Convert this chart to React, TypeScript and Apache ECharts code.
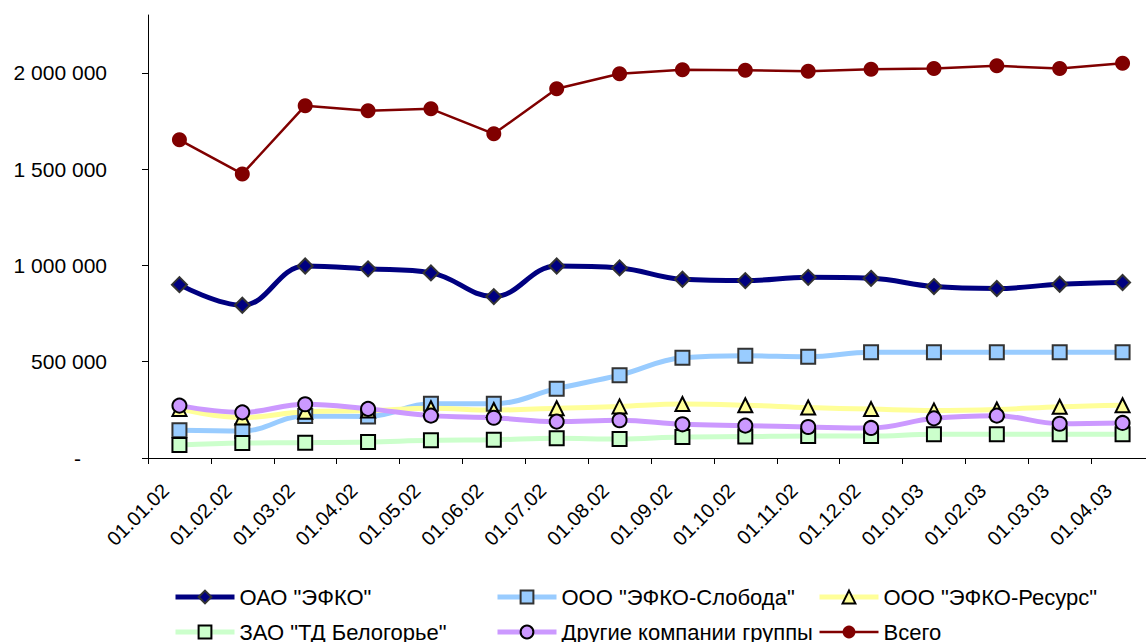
import React, { useEffect, useRef } from "react";
import * as echarts from "echarts";

const categories = [
  "01.01.02", "01.02.02", "01.03.02", "01.04.02", "01.05.02", "01.06.02",
  "01.07.02", "01.08.02", "01.09.02", "01.10.02", "01.11.02", "01.12.02",
  "01.01.03", "01.02.03", "01.03.03", "01.04.03",
];

const efko = [900000, 793000, 997000, 982000, 961000, 838000, 997000, 987000, 928000, 921000, 938000, 933000, 890000, 880000, 902000, 911000];
const sloboda = [144000, 140000, 218000, 216000, 282000, 282000, 360000, 430000, 520000, 531000, 526000, 549000, 549000, 549000, 549000, 549000];
const resurs = [255000, 210000, 240000, 246000, 258000, 249000, 258000, 268000, 280000, 274000, 262000, 254000, 247000, 252000, 266000, 274000];
const belogorie = [67500, 78000, 79500, 83000, 92000, 95000, 102000, 99000, 109000, 111000, 114000, 114000, 123000, 123000, 123000, 123000];
const others = [272000, 237000, 279000, 255000, 220000, 209000, 189000, 196000, 175000, 168000, 161000, 156000, 206000, 220000, 178000, 182000];
const total = [1652000, 1475000, 1829000, 1803000, 1813000, 1683000, 1917000, 1995000, 2016000, 2013000, 2008000, 2018000, 2022000, 2036000, 2022000, 2050000];

const yTicks = [0, 500000, 1000000, 1500000, 2000000];

const names = [
  'ОАО "ЭФКО"',
  'ООО "ЭФКО-Слобода"',
  'ООО "ЭФКО-Ресурс"',
  'ЗАО "ТД Белогорье"',
  "Другие компании группы",
  "Всего",
];

const lineWidths = [5, 5, 5, 5, 5, 2.5];

const FONT = "'Liberation Sans', Arial, sans-serif";

function fmt(v: number) {
  if (v === 0) return "{d|-}";
  return String(v).replace(/\B(?=(\d{3})+(?!\d))/g, " ");
}

export default function App() {
  const ref = useRef<HTMLDivElement>(null);
  useEffect(() => {
    if (!ref.current) return;
    const chart = echarts.init(ref.current, undefined, { renderer: "svg" });
    const legendText = { fontSize: 22, color: "#000", fontFamily: FONT, lineHeight: 22 };
    const mkLegend = (left: number, idx: number[]) => ({
      orient: "vertical",
      left,
      top: 586,
      itemWidth: 59,
      itemHeight: 16,
      itemGap: 13,
      padding: 0,
      textStyle: legendText,
      data: idx.map((i) => ({ name: names[i], lineStyle: { width: lineWidths[i] } })),
    });
    chart.setOption({
      animation: false,
      backgroundColor: "#fff",
      grid: { left: 148, top: 15, right: 0, bottom: 202, containLabel: false },
      xAxis: {
        type: "category",
        data: categories,
        boundaryGap: true,
        axisLine: { lineStyle: { color: "#000", width: 1 } },
        axisTick: { show: true, length: 6, lineStyle: { color: "#000" }, interval: 0 },
        axisLabel: {
          interval: 0, rotate: 45, margin: 15, fontSize: 20, color: "#000", fontFamily: FONT,
          padding: [0, 20, 0, 0],
        },
        splitLine: { show: false },
      },
      yAxis: {
        type: "value",
        min: 0,
        max: 2300000,
        interval: 500000,
        axisLine: { show: true, lineStyle: { color: "#000", width: 1 } },
        axisTick: { show: true, length: 6, lineStyle: { color: "#000" }, customValues: yTicks },
        axisLabel: {
          margin: 41,
          fontSize: 21,
          color: "#000",
          fontFamily: FONT,
          customValues: yTicks,
          formatter: fmt,
          rich: { d: { fontSize: 21, fontFamily: FONT, color: "#000", padding: [0, 26, 0, 0] } },
        },
        splitLine: { show: false },
      },
      legend: [
        mkLegend(173, [0, 3]),
        mkLegend(495, [1, 4]),
        mkLegend(817, [2, 5]),
      ],
      series: [
        {
          name: names[0], type: "line", data: efko, smooth: 0.4,
          symbol: "diamond", symbolSize: 15,
          lineStyle: { color: "#000080", width: lineWidths[0] },
          itemStyle: { color: "#000080", borderColor: "#333", borderWidth: 2 },
        },
        {
          name: names[1], type: "line", data: sloboda, smooth: 0.4,
          symbol: "rect", symbolSize: 14,
          lineStyle: { color: "#99CCFF", width: lineWidths[1] },
          itemStyle: { color: "#99CCFF", borderColor: "#333", borderWidth: 2 },
        },
        {
          name: names[2], type: "line", data: resurs, smooth: 0.4,
          symbol: "triangle", symbolSize: 14,
          lineStyle: { color: "#FFFF99", width: lineWidths[2] },
          itemStyle: { color: "#FFFF99", borderColor: "#000", borderWidth: 2 },
        },
        {
          name: names[3], type: "line", data: belogorie, smooth: 0.4,
          symbol: "rect", symbolSize: 14,
          lineStyle: { color: "#CCFFCC", width: lineWidths[3] },
          itemStyle: { color: "#CCFFCC", borderColor: "#000", borderWidth: 2 },
        },
        {
          name: names[4], type: "line", data: others, smooth: 0.4,
          symbol: "circle", symbolSize: 14,
          lineStyle: { color: "#CC99FF", width: lineWidths[4] },
          itemStyle: { color: "#CC99FF", borderColor: "#000", borderWidth: 2 },
        },
        {
          name: names[5], type: "line", data: total, smooth: false,
          symbol: "circle", symbolSize: 15,
          lineStyle: { color: "#800000", width: lineWidths[5] },
          itemStyle: { color: "#800000", borderWidth: 0 },
        },
      ],
    });
    return () => chart.dispose();
  }, []);
  return (
    <div
      ref={ref}
      style={{ position: "fixed", left: 0, top: 0, width: 1154, height: 660, background: "#fff" }}
    />
  );
}
